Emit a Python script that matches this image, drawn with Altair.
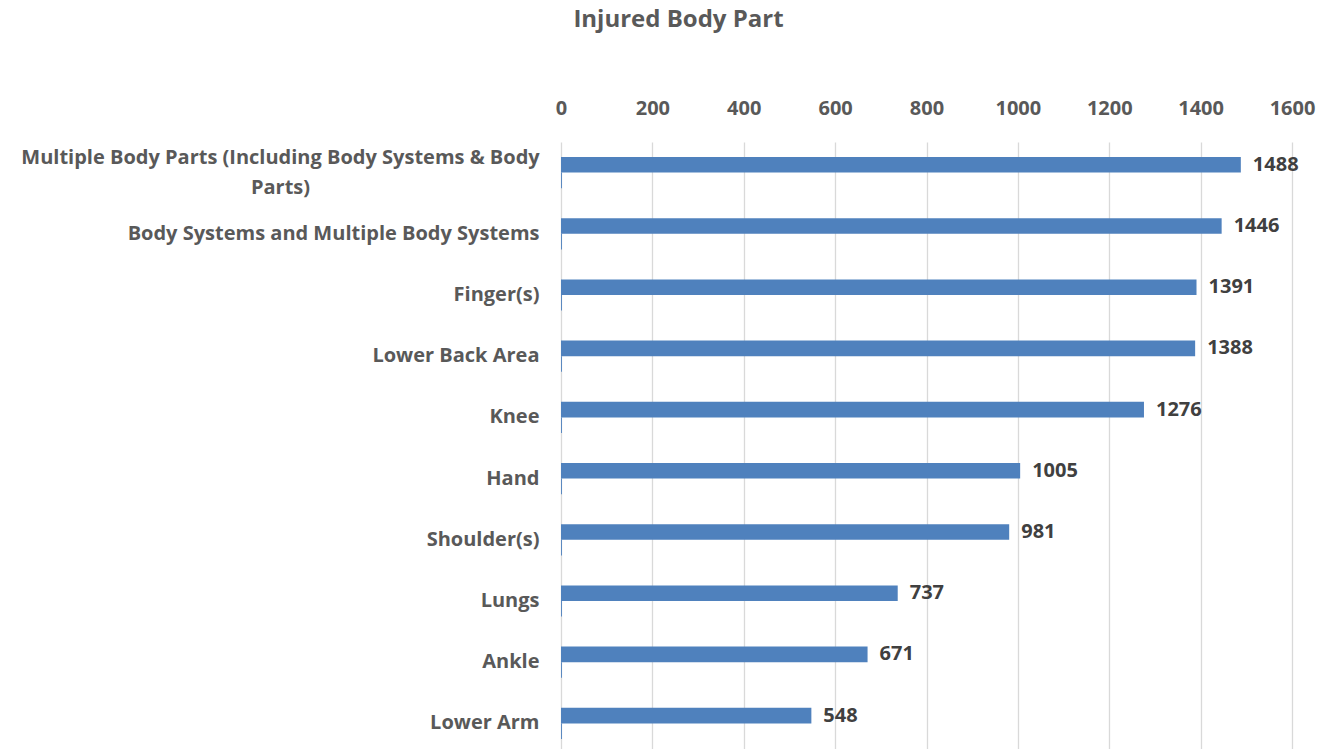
import altair as alt
import pandas as pd

categories = [
    "Multiple Body Parts (Including Body Systems & Body Parts)",
    "Body Systems and Multiple Body Systems",
    "Finger(s)",
    "Lower Back Area",
    "Knee",
    "Hand",
    "Shoulder(s)",
    "Lungs",
    "Ankle",
    "Lower Arm",
]
counts = [1488, 1446, 1391, 1388, 1276, 1005, 981, 737, 671, 548]
minor = [2, 2, 2, 2, 2, 2, 2, 2, 2, 2]
x_ticks = [0, 200, 400, 600, 800, 1000, 1200, 1400, 1600]

rows = []
for c, v, m in zip(categories, counts, minor):
    rows.append({"part": c, "series": "a", "value": v})
    rows.append({"part": c, "series": "b", "value": m})
df = pd.DataFrame(rows)
df_main = df[df.series == "a"]

FONT = "Open Sans"
GREY = "#595959"

first = categories[0]
is_first = f"datum.value == '{first}'"
label_expr = (
    f"{is_first} ? "
    "['Multiple Body Parts (Including Body Systems & Body', 'Parts)'] : datum.label"
)

y_enc = alt.Y(
    "part:N",
    sort=categories,
    scale=alt.Scale(paddingInner=0.49, paddingOuter=0.245),
    axis=alt.Axis(
        title=None, ticks=False, domain=False,
        labelFont=FONT, labelFontSize=20, labelFontWeight="bold", labelColor=GREY,
        labelLineHeight=30, labelExpr=label_expr, labelLimit=900,
        labelOffset={"condition": {"test": is_first, "value": -15}, "value": 0},
        labelAlign={"condition": {"test": is_first, "value": "center"}, "value": "right"},
        labelPadding={"condition": {"test": is_first, "value": 281}, "value": 22},
    ),
)
x_enc = alt.X(
    "value:Q",
    scale=alt.Scale(domain=[0, 1600]),
    axis=alt.Axis(
        orient="top", values=x_ticks, format="d", title=None, ticks=False, domain=False,
        labelPadding=24, labelFont=FONT, labelFontSize=20, labelFontWeight="bold",
        labelColor=GREY, labelFlush=False, gridColor="#D9D9D9", gridWidth=1.3,
    ),
)

bars = alt.Chart(df).mark_bar(color="#4F81BD").encode(
    x=x_enc,
    y=y_enc,
    yOffset=alt.YOffset("series:N", sort=["a", "b"], scale=alt.Scale(paddingInner=0, paddingOuter=0)),
)

labels = alt.Chart(df_main).mark_text(
    align="left", baseline="middle", dx=12, font=FONT, fontSize=20,
    fontWeight="bold", color="#404040",
).encode(
    x="value:Q",
    y=alt.Y("part:N", sort=categories),
    yOffset=alt.YOffset("series:N", sort=["a", "b"]),
    text="value:Q",
)

chart = alt.layer(bars, labels).properties(
    width=731, height=612,
    padding={"left": 553, "top": 134, "right": 44, "bottom": 0},
    autosize=alt.AutoSizeParams(type="none"),
    title=alt.Title(
        "Injured Body Part", font=FONT, fontSize=24, fontWeight="bold",
        color=GREY, anchor="middle", dx=-248, offset=66,
    ),
).configure_view(stroke=None).resolve_scale(yOffset="shared")

chart.save("out.html", embed_options={"renderer": "svg", "actions": False})
